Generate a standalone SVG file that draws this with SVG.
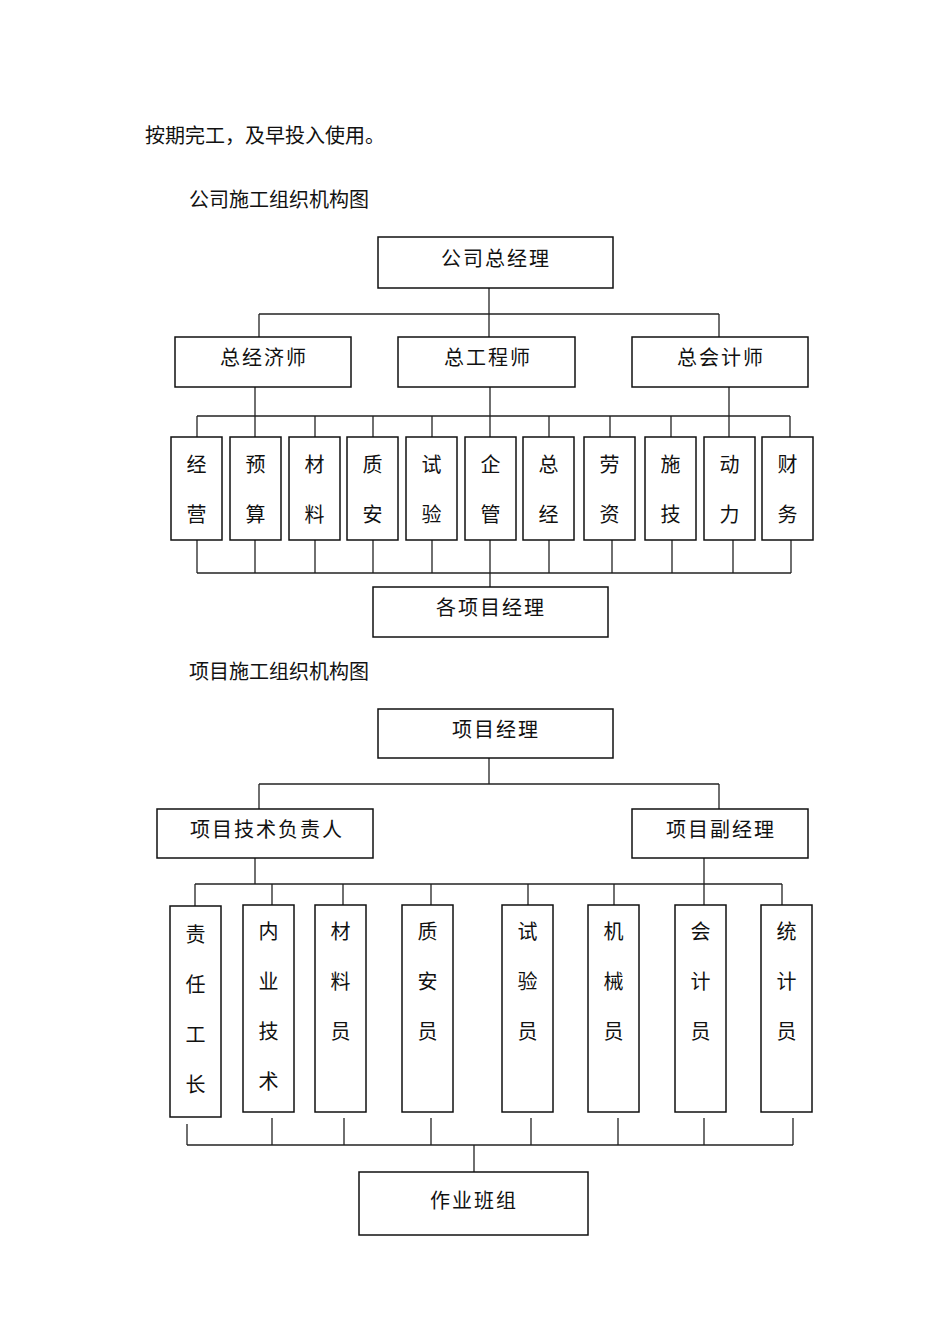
<svg xmlns="http://www.w3.org/2000/svg" width="950" height="1344" viewBox="0 0 950 1344">
<style>
text{font-family:"Noto Sans CJK SC","Noto Sans CJK JP",sans-serif;fill:#111;}
.h{font-size:20px;}
.b{font-size:20px;text-anchor:middle;letter-spacing:2px;}
.v{font-size:20px;text-anchor:middle;}
rect{fill:#fff;stroke:#111;stroke-width:1.5;}
.c line,.c polyline{stroke:#222;stroke-width:1.3;fill:none;}
</style>
<rect x="0" y="0" width="950" height="1344" style="fill:#fff;stroke:none"/>
<text class="h" x="145" y="143">按期完工，及早投入使用。</text>
<text class="h" x="189" y="207">公司施工组织机构图</text>
<text class="h" x="189" y="679">项目施工组织机构图</text>

<g class="c" id="connectors">
  <!-- top chart -->
  <line x1="489" y1="288" x2="489" y2="314"/>
  <line x1="259" y1="314" x2="719" y2="314"/>
  <line x1="259" y1="314" x2="259" y2="337"/>
  <line x1="489" y1="314" x2="489" y2="337"/>
  <line x1="719" y1="314" x2="719" y2="337"/>
  <line x1="255" y1="387" x2="255" y2="416"/>
  <line x1="490" y1="387" x2="490" y2="416"/>
  <line x1="729" y1="387" x2="729" y2="416"/>
  <line x1="197" y1="416" x2="790" y2="416"/>
  <line x1="197" y1="416" x2="197" y2="437"/>
  <line x1="255" y1="416" x2="255" y2="437"/>
  <line x1="315" y1="416" x2="315" y2="437"/>
  <line x1="373" y1="416" x2="373" y2="437"/>
  <line x1="432" y1="416" x2="432" y2="437"/>
  <line x1="490" y1="416" x2="490" y2="437"/>
  <line x1="549" y1="416" x2="549" y2="437"/>
  <line x1="610" y1="416" x2="610" y2="437"/>
  <line x1="671" y1="416" x2="671" y2="437"/>
  <line x1="729" y1="416" x2="729" y2="437"/>
  <line x1="790" y1="416" x2="790" y2="437"/>
  <line x1="197" y1="540" x2="197" y2="573"/>
  <line x1="255" y1="540" x2="255" y2="573"/>
  <line x1="315" y1="540" x2="315" y2="573"/>
  <line x1="373" y1="540" x2="373" y2="573"/>
  <line x1="432" y1="540" x2="432" y2="573"/>
  <line x1="490" y1="540" x2="490" y2="587"/>
  <line x1="549" y1="540" x2="549" y2="573"/>
  <line x1="612" y1="540" x2="612" y2="573"/>
  <line x1="672" y1="540" x2="672" y2="573"/>
  <line x1="733" y1="540" x2="733" y2="573"/>
  <line x1="791" y1="540" x2="791" y2="573"/>
  <line x1="197" y1="573" x2="791" y2="573"/>
  <!-- bottom chart -->
  <line x1="489" y1="758" x2="489" y2="784"/>
  <line x1="259" y1="784" x2="719" y2="784"/>
  <line x1="259" y1="784" x2="259" y2="809"/>
  <line x1="719" y1="784" x2="719" y2="809"/>
  <line x1="255" y1="858" x2="255" y2="884"/>
  <line x1="704" y1="858" x2="704" y2="884"/>
  <line x1="195" y1="884" x2="782" y2="884"/>
  <line x1="195" y1="884" x2="195" y2="906"/>
  <line x1="272" y1="884" x2="272" y2="905"/>
  <line x1="343" y1="884" x2="343" y2="905"/>
  <line x1="431" y1="884" x2="431" y2="905"/>
  <line x1="528" y1="884" x2="528" y2="905"/>
  <line x1="614" y1="884" x2="614" y2="905"/>
  <line x1="704" y1="884" x2="704" y2="905"/>
  <line x1="782" y1="884" x2="782" y2="905"/>
  <line x1="187" y1="1124" x2="187" y2="1145"/>
  <line x1="272" y1="1118" x2="272" y2="1145"/>
  <line x1="344" y1="1118" x2="344" y2="1145"/>
  <line x1="431" y1="1118" x2="431" y2="1145"/>
  <line x1="531" y1="1118" x2="531" y2="1145"/>
  <line x1="618" y1="1118" x2="618" y2="1145"/>
  <line x1="704" y1="1118" x2="704" y2="1145"/>
  <line x1="793" y1="1118" x2="793" y2="1145"/>
  <line x1="187" y1="1145" x2="793" y2="1145"/>
  <line x1="474" y1="1145" x2="474" y2="1172"/>
</g>

<g id="n-gm"><rect x="378" y="237" width="235" height="51"/><text class="b" x="496" y="266">公司总经理</text></g>
<g id="n-ce"><rect x="175" y="337" width="176" height="50"/><text class="b" x="264" y="365">总经济师</text></g>
<g id="n-cen"><rect x="398" y="337" width="177" height="50"/><text class="b" x="488" y="365">总工程师</text></g>
<g id="n-ca"><rect x="632" y="337" width="176" height="50"/><text class="b" x="721" y="365">总会计师</text></g>

<g id="n-jy"><rect x="171" y="437" width="51" height="103"/><text class="v" x="196.5" y="472">经</text><text class="v" x="196.5" y="522">营</text></g>
<g id="n-ys"><rect x="230" y="437" width="51" height="103"/><text class="v" x="255.5" y="472">预</text><text class="v" x="255.5" y="522">算</text></g>
<g id="n-cl"><rect x="289" y="437" width="51" height="103"/><text class="v" x="314.5" y="472">材</text><text class="v" x="314.5" y="522">料</text></g>
<g id="n-za"><rect x="347" y="437" width="51" height="103"/><text class="v" x="372.5" y="472">质</text><text class="v" x="372.5" y="522">安</text></g>
<g id="n-sy"><rect x="406" y="437" width="51" height="103"/><text class="v" x="431.5" y="472">试</text><text class="v" x="431.5" y="522">验</text></g>
<g id="n-qg"><rect x="465" y="437" width="51" height="103"/><text class="v" x="490.5" y="472">企</text><text class="v" x="490.5" y="522">管</text></g>
<g id="n-zj"><rect x="523" y="437" width="51" height="103"/><text class="v" x="548.5" y="472">总</text><text class="v" x="548.5" y="522">经</text></g>
<g id="n-lz"><rect x="584" y="437" width="51" height="103"/><text class="v" x="609.5" y="472">劳</text><text class="v" x="609.5" y="522">资</text></g>
<g id="n-sj"><rect x="645" y="437" width="51" height="103"/><text class="v" x="670.5" y="472">施</text><text class="v" x="670.5" y="522">技</text></g>
<g id="n-dl"><rect x="704" y="437" width="51" height="103"/><text class="v" x="729.5" y="472">动</text><text class="v" x="729.5" y="522">力</text></g>
<g id="n-cw"><rect x="762" y="437" width="51" height="103"/><text class="v" x="787.5" y="472">财</text><text class="v" x="787.5" y="522">务</text></g>

<g id="n-gxm"><rect x="373" y="587" width="235" height="50"/><text class="b" x="491" y="615">各项目经理</text></g>

<g id="n-pm"><rect x="378" y="709" width="235" height="49"/><text class="b" x="496" y="737">项目经理</text></g>
<g id="n-tech"><rect x="157" y="809" width="216" height="49"/><text class="b" x="267" y="837">项目技术负责人</text></g>
<g id="n-dpm"><rect x="632" y="809" width="176" height="49"/><text class="b" x="721" y="837">项目副经理</text></g>

<g id="n-zrgz"><rect x="170" y="906" width="51" height="211"/><text class="v" x="195.5" y="942">责</text><text class="v" x="195.5" y="992">任</text><text class="v" x="195.5" y="1042">工</text><text class="v" x="195.5" y="1092">长</text></g>
<g id="n-nyjs"><rect x="243" y="905" width="51" height="207"/><text class="v" x="268.5" y="939">内</text><text class="v" x="268.5" y="989">业</text><text class="v" x="268.5" y="1039">技</text><text class="v" x="268.5" y="1089">术</text></g>
<g id="n-cly"><rect x="315" y="905" width="51" height="207"/><text class="v" x="340.5" y="939">材</text><text class="v" x="340.5" y="989">料</text><text class="v" x="340.5" y="1039">员</text></g>
<g id="n-zay"><rect x="402" y="905" width="51" height="207"/><text class="v" x="427.5" y="939">质</text><text class="v" x="427.5" y="989">安</text><text class="v" x="427.5" y="1039">员</text></g>
<g id="n-syy"><rect x="502" y="905" width="51" height="207"/><text class="v" x="527.5" y="939">试</text><text class="v" x="527.5" y="989">验</text><text class="v" x="527.5" y="1039">员</text></g>
<g id="n-jxy"><rect x="588" y="905" width="51" height="207"/><text class="v" x="613.5" y="939">机</text><text class="v" x="613.5" y="989">械</text><text class="v" x="613.5" y="1039">员</text></g>
<g id="n-kjy"><rect x="675" y="905" width="51" height="207"/><text class="v" x="700.5" y="939">会</text><text class="v" x="700.5" y="989">计</text><text class="v" x="700.5" y="1039">员</text></g>
<g id="n-tjy"><rect x="761" y="905" width="51" height="207"/><text class="v" x="786.5" y="939">统</text><text class="v" x="786.5" y="989">计</text><text class="v" x="786.5" y="1039">员</text></g>

<g id="n-zybz"><rect x="359" y="1172" width="229" height="63"/><text class="b" x="474" y="1208">作业班组</text></g>
</svg>
